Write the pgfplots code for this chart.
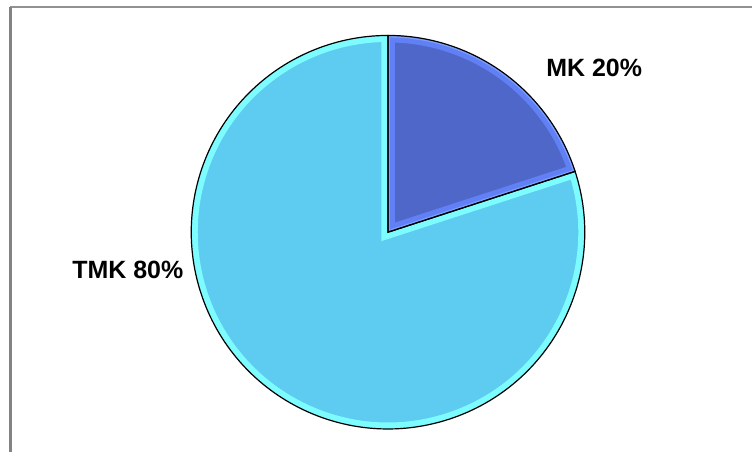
\documentclass[border=0pt]{standalone}
\usepackage{pgfplots}
\usepackage{pgfplotstable}
\pgfplotsset{compat=1.18}
\usepackage{fontspec}
\setmainfont{Liberation Sans}

\definecolor{mkfill}{RGB}{79,103,200}
\definecolor{mkbevel}{RGB}{98,128,245}
\definecolor{mkedge}{RGB}{122,160,255}
\definecolor{tmkfill}{RGB}{94,203,240}
\definecolor{tmkbevel}{RGB}{125,252,255}
\definecolor{framegray}{RGB}{145,145,145}

\pgfplotstableread{
label value
MK 20
TMK 80
}\piedata

\begin{document}
\begin{tikzpicture}
\pgfplotstablegetelem{0}{value}\of\piedata \let\vmk\pgfplotsretval
\pgfplotstablegetelem{1}{value}\of\piedata \let\vtmk\pgfplotsretval
% MK starts at 12 o'clock and runs clockwise
\pgfmathsetmacro\angmk{90-3.6*\vmk}
\pgfmathsetmacro\angtmk{\angmk-3.6*\vtmk}
\begin{axis}[
  scale only axis,
  width=753bp, height=453bp,
  xmin=0, xmax=753, ymin=0, ymax=453,
  enlargelimits=false,
  hide axis,
  clip=false,
]
\path (axis cs:0,0) rectangle (axis cs:753,453);

% frame (top and left edge only)
\draw[framegray, line width=2bp] (axis cs:10,445.5) -- (axis cs:753,445.5);
\draw[framegray!90!black, line width=3bp] (axis cs:11,446) -- (axis cs:11,0);

% TMK slice
\begin{scope}
  \clip (axis cs:388.5,220.5) -- ++(\angmk:197bp) arc[start angle=\angmk, end angle=\angtmk, radius=197bp] -- cycle;
  \fill[tmkfill] (axis cs:388.5,220.5) circle[radius=200bp];
  \draw[tmkbevel, line width=13bp] (axis cs:388.5,220.5) -- ++(\angmk:197bp) arc[start angle=\angmk, end angle=\angtmk, radius=197bp] -- cycle;
\end{scope}
% MK slice
\begin{scope}
  \clip (axis cs:388.5,220.5) -- ++(90:197bp) arc[start angle=90, end angle=\angmk, radius=197bp] -- cycle;
  \fill[mkfill] (axis cs:388.5,220.5) circle[radius=200bp];
  \draw[mkbevel, line width=14bp] (axis cs:388.5,220.5) -- ++(90:197bp) arc[start angle=90, end angle=\angmk, radius=197bp] -- cycle;
  \draw[mkedge, line width=4bp] (axis cs:388.5,220.5) -- ++(90:197bp) arc[start angle=90, end angle=\angmk, radius=197bp] -- cycle;
\end{scope}
% outlines
\draw[black, line width=1.2bp, line join=miter] (axis cs:388.5,220.5) -- ++(\angmk:197bp) arc[start angle=\angmk, end angle=\angtmk, radius=197bp] -- cycle;
\draw[black, line width=1.2bp, line join=miter] (axis cs:388.5,220.5) -- ++(90:197bp) arc[start angle=90, end angle=\angmk, radius=197bp] -- cycle;

% labels
\node[anchor=base, inner sep=0pt, font=\fontsize{25bp}{30bp}\selectfont\bfseries] at (axis cs:595,376) {MK \vmk\%};
\node[anchor=base, inner sep=0pt, font=\fontsize{25bp}{30bp}\selectfont\bfseries] at (axis cs:128,174) {TMK \vtmk\%};
\end{axis}
\end{tikzpicture}
\end{document}
